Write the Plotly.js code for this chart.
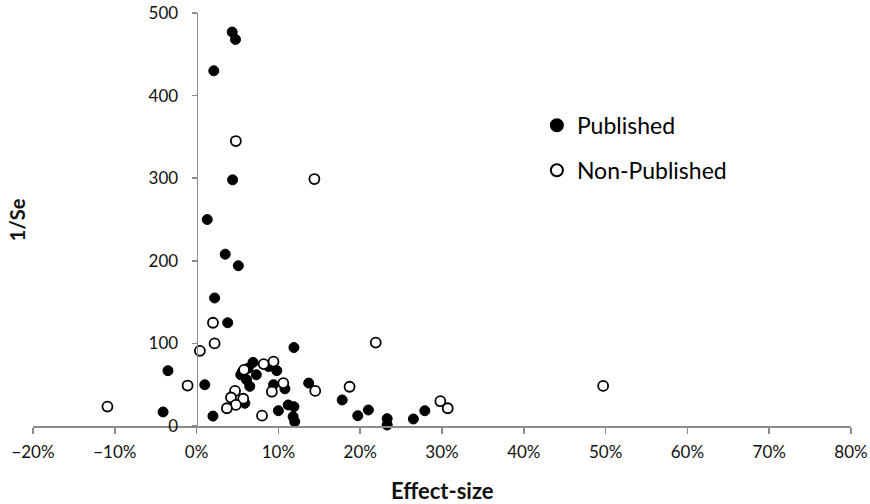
<!DOCTYPE html>
<html>
<head>
<meta charset="utf-8">
<script src="https://cdn.plot.ly/plotly-3.0.1.min.js"></script>
<style>html,body{margin:0;padding:0;background:#fff;}#chart{width:870px;height:504px;}</style>
</head>
<body>
<div id="chart"></div>
<script>
// Effect-size (fraction) and 1/Se values
const publishedX = [0.0435,0.0475,0.021,0.044,0.013,0.035,0.051,0.022,0.038,0.119,-0.035,0.010,-0.041,0.020,0.100,0.069,0.088,0.098,0.056,0.063,0.054,0.073,0.061,0.065,0.094,0.108,0.137,0.178,0.059,0.112,0.119,0.118,0.120,0.197,0.210,0.233,0.233,0.265,0.279];
const publishedY = [477,468,430,298,250,208,194,155,125,95,67,50,17,12,18.5,77,72,67,66,70,62,62,56,48,50,45,52,31.5,27.5,25.5,23.4,11.3,5.2,12.5,19.4,8.9,1.2,8.5,18.5];
const nonPublishedX = [0.048,0.144,0.020,0.022,0.004,0.219,0.497,-0.109,-0.011,0.080,0.082,0.094,0.058,0.106,0.092,0.145,0.187,0.047,0.042,0.057,0.048,0.037,0.298,0.307];
const nonPublishedY = [345,299,125,100,91,101,48.5,23.5,49,12.5,75,78,68,52,41.5,42.5,47.5,42.5,34.5,33,25.5,21.5,30,21.5];
const seriesNames = ["Published", "Non-Published"];
const xTicks = [-0.2,-0.1,0,0.1,0.2,0.3,0.4,0.5,0.6,0.7,0.8];
const yTicks = [0,100,200,300,400,500];

const FONT = "Lato, 'Open Sans', sans-serif";
const traces = [
  {x: publishedX, y: publishedY, name: seriesNames[0], type: "scatter", mode: "markers",
   legendgroup: "a", cliponaxis: false,
   marker: {symbol: "circle", size: 10, color: "#000", line: {color: "#000", width: 1}}},
  {x: nonPublishedX, y: nonPublishedY, name: seriesNames[1], type: "scatter", mode: "markers",
   legendgroup: "b", cliponaxis: false,
   marker: {symbol: "circle", size: 10, color: "#fff", line: {color: "#000", width: 1.8}}}
];
const layout = {
  width: 870, height: 504,
  margin: {l: 33, r: 19, t: 13, b: 78},
  paper_bgcolor: "#fff", plot_bgcolor: "#fff",
  font: {family: FONT, size: 17, color: "#111"},
  showlegend: true,
  legend: {x: 0.616, y: 0.78, xanchor: "left", yanchor: "top", traceorder: "grouped",
           tracegroupgap: 12, itemsizing: "constant",
           font: {family: FONT, size: 23, color: "#000"}, bgcolor: "rgba(0,0,0,0)"},
  xaxis: {range: [-0.2, 0.8], tickvals: xTicks, tickformat: ".0%", showgrid: false, zeroline: false,
          showline: true, linecolor: "#8c8c8c", linewidth: 1.5, ticks: "outside", ticklen: 6,
          tickcolor: "#8c8c8c", tickwidth: 1.5, ticklabelstandoff: 4,
          tickfont: {family: FONT, size: 17, color: "#111"}},
  yaxis: {range: [0, 500], tickvals: yTicks, showgrid: false, zeroline: false, anchor: "free", position: 0.2,
          showline: true, linecolor: "#8c8c8c", linewidth: 1.5, ticks: "outside", ticklen: 5,
          tickcolor: "#8c8c8c", tickwidth: 1.5, ticklabelstandoff: 10,
          tickfont: {family: FONT, size: 17, color: "#111"}},
  annotations: [
    {text: "<b>Effect-size</b>", xref: "paper", yref: "paper", x: 0.5, y: -0.157, yanchor: "middle",
     showarrow: false, font: {family: FONT, size: 22, color: "#111"}},
    {text: "<b>1/Se</b>", xref: "paper", yref: "paper", x: -0.02, y: 0.5, textangle: -90,
     xanchor: "center", showarrow: false, font: {family: FONT, size: 20, color: "#111"}}
  ]
};
Plotly.newPlot("chart", traces, layout, {displayModeBar: false, staticPlot: true});
</script>
</body>
</html>
